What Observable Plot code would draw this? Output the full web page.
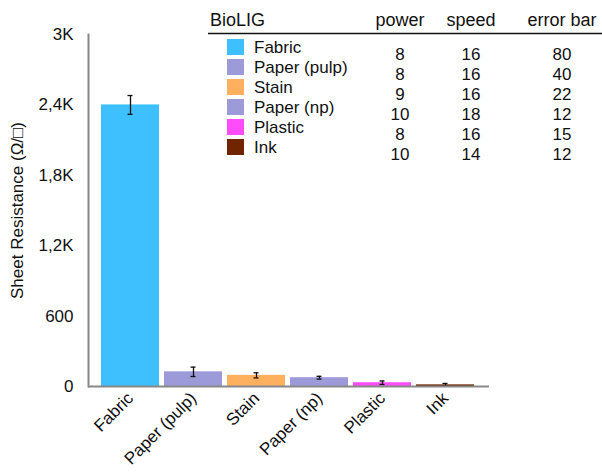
<!DOCTYPE html>
<html>
<head>
<meta charset="utf-8">
<script src="https://cdn.jsdelivr.net/npm/d3@7"></script>
<script src="https://cdn.jsdelivr.net/npm/@observablehq/plot@0.6"></script>
<style>
  html, body { margin: 0; padding: 0; background: #fff; }
  #wrap { position: relative; width: 602px; height: 474px; font-family: "Liberation Sans", Arial, Helvetica, sans-serif; }
  #wrap svg { position: absolute; left: 0; top: 0; }
</style>
</head>
<body>
<div id="wrap"></div>
<script>
// ---- data ----
const categories = ["Fabric", "Paper (pulp)", "Stain", "Paper (np)", "Plastic", "Ink"];
const resistance = [2400, 125, 95, 75, 32, 14];
const errorBar = [80, 40, 22, 12, 15, 12];
const power = [8, 8, 9, 10, 8, 10];
const speed = [16, 16, 16, 18, 16, 14];
const barColors = ["#3ec0fe", "#9c9ad8", "#feb05e", "#9c9ad8", "#fe4cfa", "#702400"];
const yTicks = [0, 600, 1200, 1800, 2400, 3000];
const yTickLabels = ["0", "600", "1,2K", "1,8K", "2,4K", "3K"];
const tableHeaders = ["BioLIG", "power", "speed", "error bar"];
const yLabel = "Sheet Resistance (\u03A9/\u25A1)";

const data = categories.map((c, i) => ({
  cat: c, v: resistance[i], e: errorBar[i], color: barColors[i],
  lo: resistance[i] - errorBar[i], hi: resistance[i] + errorBar[i]
}));

const font = '"Liberation Sans", Arial, Helvetica, sans-serif';

const chart = Plot.plot({
  width: 602,
  height: 474,
  marginLeft: 88,
  marginRight: 113,
  marginTop: 34,
  marginBottom: 88,
  style: { fontFamily: font, fontSize: "17px", color: "#111", background: "transparent" },
  x: { domain: categories, padding: 0.08, insetLeft: 7, insetRight: 10 },
  y: { domain: [0, 3000] },
  marks: [
    Plot.barY(data, { x: "cat", y: "v", fill: "color" }),
    Plot.ruleX(data, { x: "cat", y1: "lo", y2: "hi", stroke: "#111", strokeWidth: 1.3 }),
    Plot.tickY(data, { x: "cat", y: "lo", stroke: "#111", strokeWidth: 1.3, insetLeft: 26.5, insetRight: 26.5 }),
    Plot.tickY(data, { x: "cat", y: "hi", stroke: "#111", strokeWidth: 1.3, insetLeft: 26.5, insetRight: 26.5 }),
    Plot.ruleY([0], { stroke: "#888", strokeWidth: 2 }),
    Plot.axisY({
      ticks: yTicks,
      tickFormat: (d) => yTickLabels[yTicks.indexOf(d)],
      tickSize: 0,
      tickPadding: 15,
      label: yLabel,
      labelAnchor: "center",
      labelArrow: "none",
      labelOffset: 78,
      fontSize: 17
    }),
    Plot.frame({ anchor: "left", stroke: "#888", strokeWidth: 2 }),
    Plot.axisX({
      tickSize: 0,
      tickRotate: -45,
      tickPadding: 9,
      label: null,
      fontSize: 17
    })
  ]
});
document.getElementById("wrap").appendChild(chart);

// ---- legend table ----
const svg = d3.select("#wrap").append("svg")
  .attr("width", 602).attr("height", 474)
  .style("font-family", font).style("font-size", "17px").style("pointer-events", "none");

const colX = [210, 400, 471, 562];
svg.selectAll("text.h").data(tableHeaders).join("text")
  .attr("class", "h")
  .attr("x", (d, i) => colX[i])
  .attr("y", 26)
  .attr("text-anchor", (d, i) => i === 0 ? "start" : "middle")
  .attr("fill", "#111")
  .style("font-size", "18px")
  .text(d => d);
svg.append("line").attr("x1", 208).attr("x2", 602).attr("y1", 33.5).attr("y2", 33.5)
  .attr("stroke", "#111").attr("stroke-width", 1.5);

const rows = svg.selectAll("g.row").data(data).join("g")
  .attr("class", "row")
  .attr("transform", (d, i) => `translate(0,${i * 20})`);
rows.append("rect").attr("x", 227).attr("y", 39).attr("width", 17).attr("height", 16)
  .attr("fill", d => d.color);
rows.append("text").attr("x", 254).attr("y", 53).attr("fill", "#111").text(d => d.cat);
rows.append("text").attr("x", colX[1]).attr("y", 60).attr("text-anchor", "middle").attr("fill", "#111")
  .text((d, i) => power[i]);
rows.append("text").attr("x", colX[2]).attr("y", 60).attr("text-anchor", "middle").attr("fill", "#111")
  .text((d, i) => speed[i]);
rows.append("text").attr("x", colX[3]).attr("y", 60).attr("text-anchor", "middle").attr("fill", "#111")
  .text((d, i) => errorBar[i]);
</script>
</body>
</html>
